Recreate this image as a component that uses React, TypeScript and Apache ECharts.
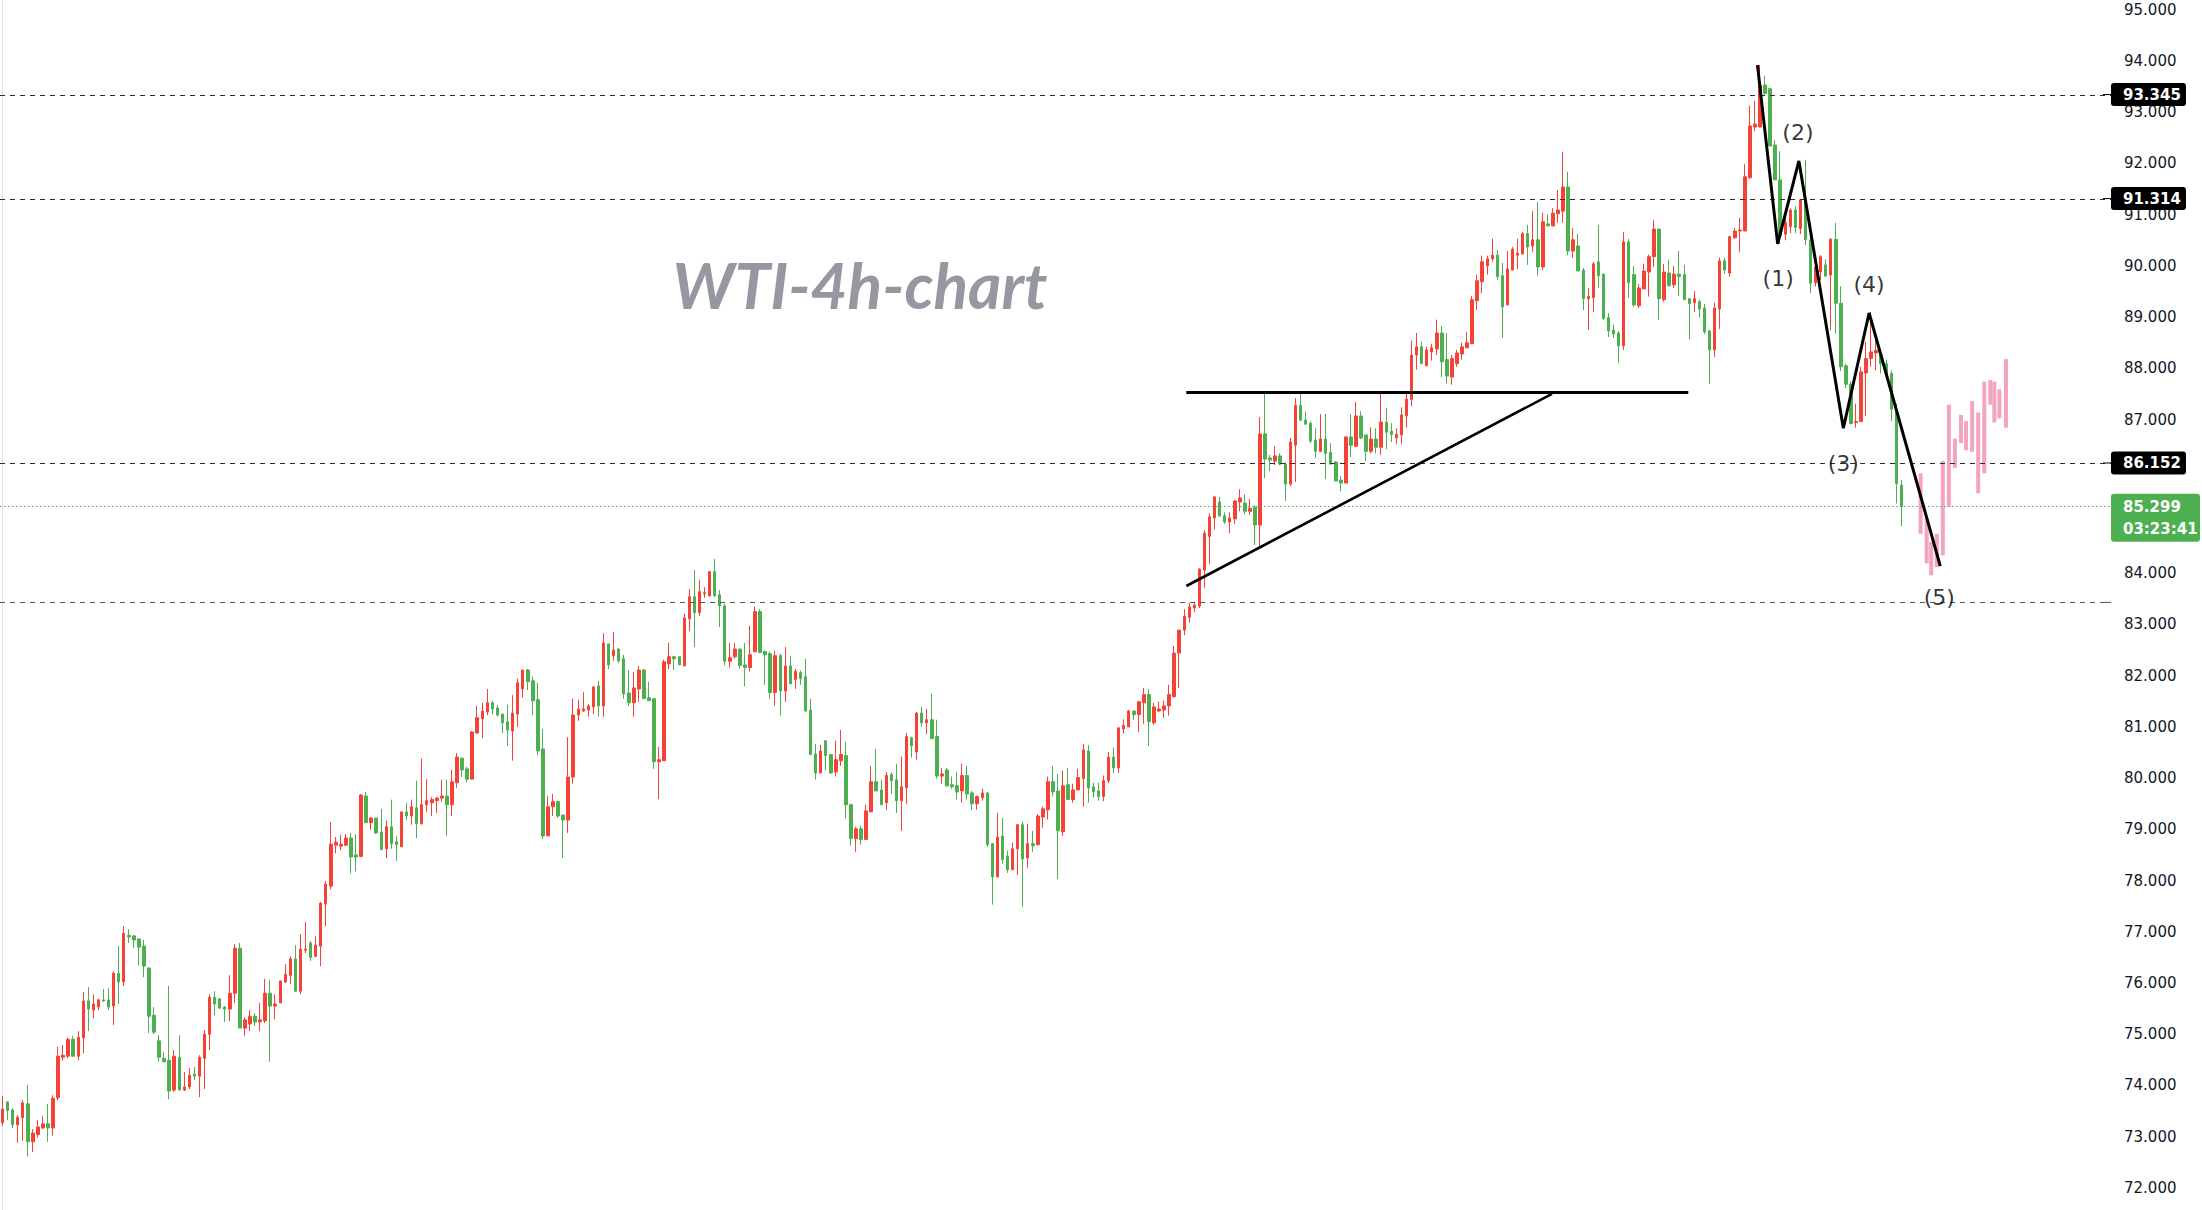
import React, { useEffect, useRef } from "react";
import * as echarts from "echarts";

// Each candle: [open, high, low, close]
const ohlc: number[][] = [
  [73.27,73.79,73.21,73.54],[73.68,73.68,73.32,73.51],[73.52,73.56,73.17,73.23],[73.23,73.42,72.88,73.38],[73.37,73.71,72.92,73.66],
  [73.64,74.01,72.61,72.90],[72.90,73.15,72.70,73.07],[73.04,73.32,72.98,73.19],[73.17,73.40,73.15,73.25],[73.25,73.64,72.90,73.17],
  [73.17,73.81,73.02,73.75],[73.76,74.75,73.71,74.57],[74.55,74.79,74.49,74.59],[74.57,74.94,74.53,74.90],[74.90,74.96,74.57,74.57],
  [74.57,75.06,74.49,74.94],[74.93,75.82,74.63,75.65],[75.65,75.92,75.06,75.49],[75.47,75.78,75.31,75.59],[75.53,75.69,75.47,75.67],
  [75.67,75.88,75.63,75.65],[75.67,75.90,75.47,75.53],[75.55,76.23,75.18,76.19],[76.19,76.72,75.59,76.02],[76.02,77.11,75.94,76.97],
  [76.93,77.05,76.78,76.90],[76.92,76.93,76.68,76.84],[76.86,76.86,76.35,76.70],[76.72,76.84,76.11,76.33],[76.29,76.31,75.02,75.35],
  [75.37,75.53,75.00,75.04],[74.87,74.98,74.47,74.55],[74.53,74.65,74.46,74.46],[74.49,75.94,73.73,73.89],[73.91,74.69,73.87,74.57],
  [74.55,74.98,73.91,73.91],[73.91,74.26,73.89,73.97],[73.97,74.34,73.93,74.20],[74.22,74.36,74.10,74.18],[74.18,74.59,73.77,74.55],
  [74.53,75.08,73.93,75.00],[75.00,75.78,74.69,75.72],[75.72,75.84,75.37,75.59],[75.69,75.71,75.49,75.51],[75.53,75.55,75.24,75.49],
  [75.49,76.15,75.26,75.80],[75.80,76.76,75.61,76.68],[76.68,76.78,75.12,75.12],[75.12,75.33,74.96,75.28],[75.20,75.47,75.06,75.35],
  [75.35,75.41,75.16,75.24],[75.24,75.61,75.06,75.28],[75.26,76.08,75.22,75.80],[75.80,76.06,74.46,75.55],[75.55,75.78,75.29,75.59],
  [75.61,76.04,75.61,76.04],[76.02,76.37,76.00,76.17],[76.15,76.52,75.98,76.47],[76.47,76.74,75.82,75.84],[75.84,76.95,75.78,76.66],
  [76.64,77.19,76.58,76.66],[76.78,76.82,76.43,76.50],[76.52,76.91,76.50,76.74],[76.72,77.58,76.33,77.56],[77.54,77.99,77.11,77.93],
  [77.89,79.14,77.83,78.71],[78.69,78.85,78.53,78.75],[78.67,78.89,78.59,78.71],[78.69,78.91,78.67,78.83],[78.83,78.93,78.14,78.46],
  [78.50,78.91,78.18,78.46],[78.47,79.69,78.47,79.67],[79.65,79.73,79.13,79.13],[79.13,79.24,78.99,79.22],[79.22,79.22,78.91,78.93],
  [78.95,79.40,78.60,78.60],[78.62,79.17,78.44,79.05],[79.05,79.58,78.62,78.72],[78.76,78.87,78.38,78.70],[78.66,79.34,78.66,79.34],
  [79.34,79.52,79.18,79.26],[79.26,79.58,79.09,79.44],[79.42,79.95,78.83,79.11],[79.11,80.38,79.09,79.48],[79.48,79.98,79.34,79.56],
  [79.52,79.63,79.26,79.58],[79.56,79.63,79.32,79.61],[79.61,79.97,79.54,79.65],[79.65,79.97,78.87,79.48],[79.48,80.16,79.26,79.93],
  [79.91,80.49,79.81,80.41],[80.39,80.39,80.02,80.16],[80.18,80.22,79.91,79.98],[79.98,80.92,79.98,80.90],[80.88,81.41,80.88,81.18],
  [81.16,81.47,80.78,81.31],[81.29,81.74,81.23,81.47],[81.47,81.51,81.25,81.35],[81.37,81.43,81.20,81.23],[81.25,81.25,80.88,81.08],
  [81.10,81.43,80.63,80.94],[80.92,81.62,80.34,81.27],[81.25,81.94,81.00,81.86],[81.74,82.11,81.57,82.11],[82.11,82.13,81.72,81.88],
  [81.90,81.98,81.23,81.51],[81.53,81.86,80.45,80.53],[80.57,80.96,78.81,78.87],[78.87,79.65,78.87,79.44],[79.44,79.69,79.26,79.54],
  [79.54,79.56,79.22,79.26],[79.28,79.28,78.44,79.18],[79.18,80.80,78.93,80.02],[80.02,81.55,79.89,81.23],[81.23,81.53,81.12,81.35],
  [81.31,81.68,81.29,81.35],[81.33,81.45,81.20,81.41],[81.39,81.80,81.25,81.78],[81.80,81.90,81.20,81.41],[81.41,82.83,81.20,82.64],
  [82.62,82.62,82.13,82.21],[82.39,82.85,82.29,82.50],[82.52,82.54,82.25,82.29],[82.33,82.41,81.55,81.64],[81.66,82.11,81.41,81.47],
  [81.47,82.07,81.20,81.76],[81.74,82.19,81.49,82.11],[82.11,82.13,81.55,81.55],[81.57,81.88,81.51,81.51],[81.55,81.55,80.18,80.32],
  [80.32,80.61,79.59,80.36],[80.34,82.31,80.34,82.27],[82.23,82.64,82.13,82.37],[82.37,82.39,82.11,82.33],[82.37,82.37,82.21,82.21],
  [82.19,83.21,82.19,83.13],[83.11,83.69,82.87,83.54],[83.54,84.06,82.56,83.23],[83.23,83.87,83.17,83.64],[83.60,83.73,83.52,83.62],
  [83.56,84.04,83.54,84.03],[84.03,84.28,83.54,83.56],[83.58,83.67,82.95,83.36],[83.36,83.40,82.20,82.28],[82.28,82.64,82.16,82.35],
  [82.37,82.64,82.33,82.52],[82.52,82.52,82.14,82.20],[82.21,82.64,81.79,82.16],[82.16,82.97,82.08,82.41],[82.47,83.35,82.45,83.25],
  [83.25,83.30,82.45,82.45],[82.47,82.49,81.82,82.41],[82.43,82.47,81.55,81.67],[81.67,82.49,81.41,82.39],[82.39,82.43,81.22,81.70],
  [81.70,82.56,81.49,82.19],[82.19,82.39,81.84,81.84],[81.92,82.13,81.74,82.08],[82.06,82.10,81.82,81.94],[81.98,82.33,81.29,81.31],
  [81.33,81.55,80.46,80.46],[80.47,80.67,79.97,80.10],[80.10,80.65,80.10,80.53],[80.73,80.73,80.16,80.44],[80.46,80.46,80.08,80.10],
  [80.12,80.73,80.03,80.36],[80.34,80.94,80.24,80.46],[80.44,80.71,79.21,79.48],[79.48,79.50,78.68,78.82],[78.82,79.05,78.56,79.01],
  [79.01,79.07,78.70,78.80],[78.80,79.48,78.80,79.36],[79.34,80.24,79.34,79.93],[79.93,80.57,79.75,79.75],[79.77,79.97,79.48,79.48],
  [79.52,80.12,79.38,80.05],[80.07,80.12,79.69,79.95],[79.97,80.28,79.32,79.56],[79.56,80.42,78.97,79.83],[79.81,80.88,79.50,80.81],
  [80.79,80.81,80.40,80.63],[80.51,81.29,80.36,81.27],[81.27,81.39,81.00,81.08],[81.08,81.35,80.86,81.14],[81.14,81.65,80.77,80.77],
  [80.81,81.14,79.99,80.04],[80.04,80.20,79.89,80.08],[80.16,80.20,79.83,79.85],[79.87,80.03,79.79,79.83],[79.85,80.12,79.58,79.73],
  [79.75,80.28,79.52,80.05],[80.05,80.24,79.58,79.69],[79.71,79.75,79.38,79.50],[79.50,79.66,79.38,79.64],[79.62,79.79,79.56,79.71],
  [79.71,79.73,78.66,78.70],[78.72,78.72,77.53,78.07],[78.07,79.32,78.07,78.85],[78.87,79.22,78.33,78.41],[78.48,78.58,78.15,78.21],
  [78.21,78.74,78.21,78.62],[78.62,79.09,78.11,79.09],[79.09,79.15,77.49,78.42],[78.44,79.11,78.25,78.72],[78.72,78.97,78.56,78.68],
  [78.70,79.30,78.68,79.26],[79.24,79.44,79.03,79.40],[79.38,80.03,79.19,79.93],[79.93,80.24,79.64,79.73],[79.75,80.08,78.03,78.97],
  [78.95,80.14,78.87,79.85],[79.87,80.20,79.58,79.58],[79.58,79.89,79.52,79.77],[79.77,80.18,79.77,80.01],[79.99,80.67,79.44,80.55],
  [80.53,80.65,79.52,79.81],[79.83,79.91,79.62,79.73],[79.75,79.91,79.56,79.64],[79.64,80.05,79.55,79.95],[79.95,80.51,79.90,80.41],
  [80.41,80.60,80.10,80.20],[80.20,81.00,80.10,80.98],[80.96,81.15,80.87,81.03],[81.00,81.33,81.00,81.31],[81.31,81.31,81.14,81.24],
  [81.24,81.51,80.90,81.49],[81.47,81.76,81.06,81.63],[81.63,81.74,80.63,81.10],[81.08,81.47,81.04,81.39],[81.31,81.49,81.29,81.35],
  [81.33,81.51,81.18,81.41],[81.41,81.82,81.22,81.63],[81.59,82.58,81.57,82.44],[82.44,82.89,81.76,82.89],[82.89,83.30,82.79,83.16],
  [83.14,83.42,83.03,83.34],[83.32,83.44,83.24,83.38],[83.36,84.10,83.32,84.08],[84.06,84.84,83.71,84.78],[84.72,85.17,84.18,85.10],
  [85.08,85.51,84.86,85.49],[85.39,85.49,85.10,85.12],[85.12,85.19,84.96,85.00],[85.00,85.19,84.78,85.08],[85.06,85.43,84.96,85.41],
  [85.39,85.64,85.21,85.47],[85.37,85.54,85.15,85.21],[85.21,85.45,85.14,85.27],[85.29,85.33,84.55,84.94],[84.94,87.05,84.53,86.72],
  [86.72,87.50,85.86,86.23],[86.25,86.31,85.99,86.21],[86.19,86.48,86.11,86.29],[86.29,86.34,86.11,86.13],[86.13,86.17,85.41,85.74],
  [85.74,86.64,85.70,86.56],[86.50,87.42,85.78,87.28],[87.28,87.50,86.97,86.99],[86.99,87.16,86.91,86.91],[86.93,86.97,86.54,86.58],
  [86.60,86.83,86.25,86.38],[86.38,87.11,86.36,86.62],[86.62,87.11,85.84,86.34],[86.36,86.54,86.13,86.13],[86.17,86.19,85.80,85.80],
  [85.82,85.90,85.60,85.76],[85.76,86.68,85.76,86.66],[86.66,87.11,86.27,86.50],[86.48,87.34,86.46,87.07],[87.07,87.16,86.62,86.64],
  [86.70,86.70,86.19,86.38],[86.38,86.85,86.34,86.62],[86.62,86.83,86.34,86.46],[86.46,87.55,86.31,86.95],[86.95,87.22,86.42,86.75],
  [86.77,86.93,86.56,86.71],[86.64,86.83,86.52,86.71],[86.70,87.24,86.52,87.09],[87.07,87.55,86.85,87.40],[87.39,88.54,87.26,88.26],
  [88.26,88.69,87.97,88.42],[88.42,88.52,88.09,88.09],[88.05,88.42,88.05,88.36],[88.32,88.48,88.15,88.40],[88.38,88.95,88.26,88.69],
  [88.69,88.83,87.83,88.13],[88.17,88.69,87.70,87.85],[87.83,88.26,87.68,88.19],[88.09,88.36,88.03,88.30],[88.28,88.50,88.17,88.42],
  [88.40,88.71,88.40,88.50],[88.48,89.41,88.48,89.34],[89.32,89.83,89.14,89.71],[89.69,90.20,89.47,90.08],[90.00,90.20,89.83,90.14],
  [90.14,90.53,90.08,90.21],[90.21,90.31,89.73,89.79],[89.81,90.06,88.59,89.20],[89.24,90.29,89.22,89.94],[89.92,90.37,89.92,90.33],
  [90.21,90.53,89.94,90.25],[90.23,90.66,90.23,90.63],[90.63,90.80,90.02,90.37],[90.39,91.07,90.27,90.51],[90.51,91.25,89.81,89.98],
  [89.98,91.04,89.92,90.86],[90.82,91.00,90.78,90.78],[90.78,91.13,90.78,91.03],[91.02,91.48,90.84,91.09],[91.07,92.23,90.84,91.54],
  [91.54,91.84,90.21,90.29],[90.29,90.74,90.16,90.51],[90.39,90.63,89.90,89.90],[89.92,89.96,89.14,89.36],[89.36,89.57,88.75,89.40],
  [89.38,90.08,89.10,90.04],[90.08,90.80,89.57,89.81],[89.84,89.84,88.95,88.97],[88.99,89.08,88.61,88.73],[88.75,88.85,88.59,88.67],
  [88.69,88.73,88.11,88.44],[88.44,90.66,88.36,90.47],[90.47,90.53,89.38,89.67],[89.83,90.00,89.20,89.24],[89.22,89.65,89.18,89.57],
  [89.55,90.04,89.55,89.90],[89.88,90.22,89.40,90.18],[90.18,90.90,89.98,90.72],[90.72,90.72,88.95,89.36],[89.34,90.04,89.30,89.88],
  [89.86,90.12,89.61,89.61],[89.63,90.00,89.57,89.84],[89.84,90.29,89.41,89.79],[89.83,90.02,89.34,89.34],[89.36,89.36,88.57,89.26],
  [89.28,89.51,89.10,89.36],[89.30,89.34,88.99,89.16],[89.18,89.26,88.67,88.71],[88.73,88.75,87.70,88.36],[88.36,89.28,88.22,89.18],
  [89.16,90.16,88.77,90.10],[90.10,90.16,89.84,89.92],[89.86,90.59,89.79,90.57],[90.55,90.74,90.53,90.68],[90.68,90.94,90.27,90.70],
  [90.68,91.99,90.68,91.74],[91.72,93.13,91.70,92.73],[92.71,93.22,92.63,92.77],[92.71,93.92,92.71,93.53],[93.53,93.71,93.34,93.37],
  [93.46,93.48,92.34,92.34],[92.36,92.46,91.68,91.68],[91.68,92.24,90.44,90.60],[90.62,90.93,90.50,90.85],[90.77,91.12,90.64,91.09],
  [91.09,91.16,90.64,90.75],[90.73,91.29,90.62,91.29],[91.29,92.07,90.40,90.51],[90.51,90.60,89.47,89.66],[89.67,90.20,89.60,89.97],
  [89.88,90.21,89.72,90.18],[90.02,90.13,89.79,89.80],[89.82,90.54,88.75,90.52],[90.52,90.84,88.68,89.27],[89.27,89.60,87.95,88.03],
  [88.05,88.09,87.61,87.69],[87.69,87.74,86.91,86.92],[86.94,87.31,86.84,86.96],[86.96,88.03,86.96,87.93],[87.91,88.52,87.07,88.19],
  [88.19,89.10,88.03,88.32],[88.30,88.55,87.96,88.35],[88.26,88.35,87.90,88.09],[88.09,88.17,87.82,87.90],[87.90,87.96,86.97,87.20],
  [87.20,87.31,85.36,85.75],[85.72,85.82,84.92,85.30],
];

const SLOT_COUNT = 418; // visible bar slots across the plot

// Projected pattern bars: [bar position, top, bottom]
const pinkBars: number[][] = [
  [379.8,85.95,84.77],[381.0,85.07,84.19],[381.9,84.61,83.96],[383.0,84.77,84.12],
  [384.2,86.19,84.35],[385.4,87.29,85.30],[386.6,86.63,86.06],[387.8,87.09,86.54],
  [388.8,86.97,86.40],[390.0,87.36,86.37],[391.2,87.14,85.56],[392.4,87.74,85.95],
  [393.6,87.77,87.29],[394.4,87.74,86.94],[395.4,87.59,87.02],[396.7,88.18,86.84],
];

// Price scale
const Y_MIN = 71.568;
const Y_MAX = 95.191;
// Tick labels shown on the price scale (85 and 86 are hidden behind the price tags)
const tickValues = [72, 73, 74, 75, 76, 77, 78, 79, 80, 81, 82, 83, 84, 87, 88, 89, 90, 91, 92, 93, 94, 95];

const levelLines = [93.345, 91.314, 86.152];
const supportLine = 83.43;
const lastPrice = 85.299;
const countdown = "03:23:41";

const resistanceLine = [[234.4, 87.53], [333.8, 87.53]];
const risingLine = [[234.4, 83.75], [306.8, 87.50]];
const wavePath = [[347.5, 93.92], [351.5, 90.43], [355.7, 92.05], [364.5, 86.83], [369.6, 89.08], [383.7, 84.14]];
const waveLabels = [
  { name: "(1)", x: 351.6, y: 89.76 },
  { name: "(2)", x: 355.5, y: 92.61 },
  { name: "(3)", x: 364.5, y: 86.15 },
  { name: "(4)", x: 369.6, y: 89.63 },
  { name: "(5)", x: 383.5, y: 83.52 },
];
const titleText = "WTI-4h-chart";

const RED = "#f44336";
const GREEN = "#4caf50";
const PINK = "#f4a3c0";
const FONT = "DejaVu Sans";

export default function App() {
  const ref = useRef<HTMLDivElement>(null);
  useEffect(() => {
    if (!ref.current) return;
    const chart = echarts.init(ref.current, undefined, { renderer: "svg" });
    const slots = Array.from({ length: SLOT_COUNT }, (_, i) => String(i));

    chart.setOption({
      animation: false,
      backgroundColor: "#ffffff",
      grid: { left: 0, right: 91, top: 0, bottom: 0, containLabel: false },
      xAxis: [
        { type: "category", data: slots, show: false, boundaryGap: true },
        { type: "value", min: -0.5, max: SLOT_COUNT - 0.5, show: false },
      ],
      yAxis: {
        type: "value",
        position: "right",
        min: Y_MIN,
        max: Y_MAX,
        axisLine: { show: true, lineStyle: { color: "#e0e3eb", width: 1 } },
        axisTick: { show: false },
        splitLine: { show: false },
        axisLabel: {
          customValues: tickValues,
          formatter: (v: number) => v.toFixed(3),
          color: "#131722",
          fontSize: 15,
          fontFamily: FONT,
          margin: 13,
        },
      },
      series: [
        {
          type: "candlestick",
          xAxisIndex: 0,
          data: ohlc.map((d) => [d[0], d[3], d[2], d[1]]),
          barWidth: 3,
          itemStyle: {
            color: RED,
            color0: GREEN,
            borderColor: RED,
            borderColor0: GREEN,
            borderWidth: 1,
          },
          markLine: {
            silent: true,
            symbol: "none",
            label: { show: false },
            data: [
              ...levelLines.map((v) => ({
                yAxis: v,
                lineStyle: { color: "#2a2e39", type: [5, 5], width: 1 },
              })),
              { yAxis: supportLine, lineStyle: { color: "#555555", type: [5, 5], width: 1.2 } },
              { yAxis: lastPrice, lineStyle: { color: GREEN, type: [1.5, 2.5], width: 1 } },
            ],
          },
        },
        {
          type: "custom",
          xAxisIndex: 1,
          data: pinkBars,
          encode: { x: 0, y: [1, 2] },
          renderItem: (params: any, api: any) => {
            const x = api.value(0);
            const p1 = api.coord([x, api.value(1)]);
            const p2 = api.coord([x, api.value(2)]);
            return {
              type: "rect",
              shape: { x: p1[0] - 2, y: p1[1], width: 4, height: p2[1] - p1[1] },
              style: { fill: PINK },
            };
          },
        },
        {
          type: "line",
          xAxisIndex: 1,
          data: resistanceLine,
          symbol: "none",
          lineStyle: { color: "#000000", width: 3 },
          z: 5,
        },
        {
          type: "line",
          xAxisIndex: 1,
          data: risingLine,
          symbol: "none",
          lineStyle: { color: "#000000", width: 2.6 },
          z: 5,
        },
        {
          type: "line",
          xAxisIndex: 1,
          data: wavePath,
          symbol: "none",
          lineStyle: { color: "#000000", width: 3, join: "miter" },
          z: 5,
        },
        {
          type: "scatter",
          xAxisIndex: 1,
          data: waveLabels.map((w) => ({ name: w.name, value: [w.x, w.y] })),
          symbolSize: 1,
          itemStyle: { color: "rgba(0,0,0,0)" },
          label: {
            show: true,
            position: "inside",
            formatter: (p: any) => p.name,
            color: "#000000",
            fontSize: 22,
            fontFamily: FONT,
          },
          z: 6,
        },
      ],
    });

    const toY = (v: number) => chart.convertToPixel({ yAxisIndex: 0 }, v) as number;
    const axisX = 2202 - 91;
    const graphics: any[] = [];
    levelLines.forEach((v) => {
      const py = toY(v);
      graphics.push({
        type: "line",
        shape: { x1: axisX - 8, y1: py, x2: axisX, y2: py },
        style: { stroke: "#000", lineWidth: 1 },
        z: 100,
      });
      graphics.push({
        type: "rect",
        shape: { x: axisX, y: py - 11.5, width: 75, height: 23, r: 3 },
        style: { fill: "#000000" },
        z: 100,
      });
      graphics.push({
        type: "text",
        x: axisX + 12,
        y: py,
        style: {
          text: v.toFixed(3),
          fill: "#ffffff",
          fontSize: 15,
          fontWeight: "bold",
          fontFamily: FONT,
          verticalAlign: "middle",
          align: "left",
        },
        z: 101,
      });
    });
    const pyS = toY(supportLine);
    graphics.push({
      type: "line",
      shape: { x1: axisX - 8, y1: pyS, x2: axisX, y2: pyS },
      style: { stroke: "#555", lineWidth: 1 },
      z: 100,
    });
    const pyL = toY(lastPrice);
    graphics.push({
      type: "rect",
      shape: { x: axisX, y: pyL - 13, width: 89, height: 48, r: 3 },
      style: { fill: GREEN },
      z: 100,
    });
    graphics.push({
      type: "text",
      x: axisX + 12,
      y: pyL,
      style: {
        text: lastPrice.toFixed(3),
        fill: "#ffffff",
        fontSize: 15,
        fontWeight: "bold",
        fontFamily: FONT,
        verticalAlign: "middle",
        align: "left",
      },
      z: 101,
    });
    graphics.push({
      type: "text",
      x: axisX + 12,
      y: pyL + 22,
      style: {
        text: countdown,
        fill: "#ffffff",
        fontSize: 15,
        fontWeight: "bold",
        fontFamily: FONT,
        verticalAlign: "middle",
        align: "left",
      },
      z: 101,
    });
    graphics.push({
      type: "text",
      x: 860,
      y: 284,
      style: {
        text: titleText,
        fill: "#9598a1",
        fontSize: 64,
        fontWeight: "bold",
        fontStyle: "italic",
        fontFamily: "Lato",
        align: "center",
        verticalAlign: "middle",
      },
      z: 50,
    });
    chart.setOption({ graphic: graphics });

    return () => chart.dispose();
  }, []);

  return (
    <div
      ref={ref}
      style={{ position: "fixed", left: 0, top: 0, width: 2202, height: 1210, background: "#fff" }}
    />
  );
}
